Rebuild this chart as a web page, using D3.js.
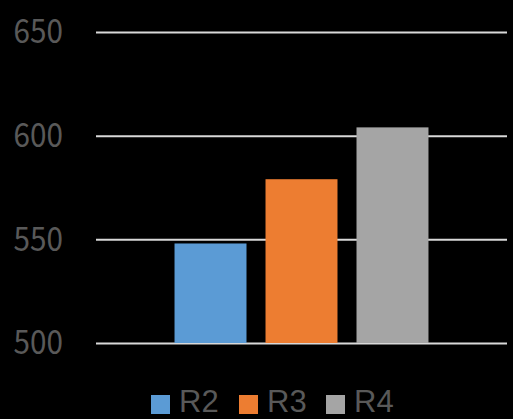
<!DOCTYPE html>
<html>
<head>
<meta charset="utf-8">
<script src="https://cdn.jsdelivr.net/npm/d3@7"></script>
<style>
  html, body { margin: 0; padding: 0; background: #000; }
  svg { display: block; }
  text { font-family: "Noto Sans CJK JP", "Noto Sans", sans-serif; fill: #595959; }
  .legend text { font-family: "Liberation Sans", Arial, sans-serif; }
</style>
</head>
<body>
<svg id="chart" width="513" height="419"></svg>
<script>
// Series shown as one cluster of bars
const series = ["R2", "R3", "R4"];
const values = [548, 579, 604];
const colors = ["#5b9bd5", "#ed7d31", "#a5a5a5"];
const yTicks = [500, 550, 600, 650];

const svg = d3.select("#chart");
const plot = { left: 96, right: 507, top: 32, bottom: 343 };

const y = d3.scaleLinear().domain([500, 650]).range([plot.bottom, plot.top]);
const x = d3.scaleBand()
  .domain(series)
  .range([plot.left, plot.right])
  .paddingInner(0.209)
  .paddingOuter(0.863);

// Horizontal gridlines with tick labels on the left
const yAxis = d3.axisLeft(y)
  .tickValues(yTicks)
  .tickSize(-(plot.right - plot.left))
  .tickPadding(33);

const gy = svg.append("g")
  .attr("transform", `translate(${plot.left},0)`)
  .call(yAxis);
gy.select(".domain").remove();
gy.selectAll(".tick line").attr("stroke", "#d9d9d9").attr("stroke-width", 2);
gy.selectAll(".tick text")
  .attr("fill", "#595959")
  .style("font-size", "33px")
  .attr("dy", "0.33em")
  .attr("transform", "scale(0.9,1)")
  .attr("x", -33 / 0.9);

// Bars
svg.append("g").selectAll("rect")
  .data(series)
  .join("rect")
  .attr("x", d => x(d))
  .attr("width", x.bandwidth())
  .attr("y", (d, i) => y(values[i]))
  .attr("height", (d, i) => y(500) - y(values[i]))
  .attr("fill", (d, i) => colors[i]);

// Legend along the bottom
const legendX = [151, 239, 326];
const legend = svg.append("g").attr("class", "legend").selectAll("g")
  .data(series)
  .join("g")
  .attr("transform", (d, i) => `translate(${legendX[i]},395)`);
legend.append("rect")
  .attr("width", 19).attr("height", 19)
  .attr("fill", (d, i) => colors[i]);
legend.append("text")
  .attr("x", 28)
  .attr("y", 17)
  .style("font-size", "31px")
  .text(d => d);
</script>
</body>
</html>
